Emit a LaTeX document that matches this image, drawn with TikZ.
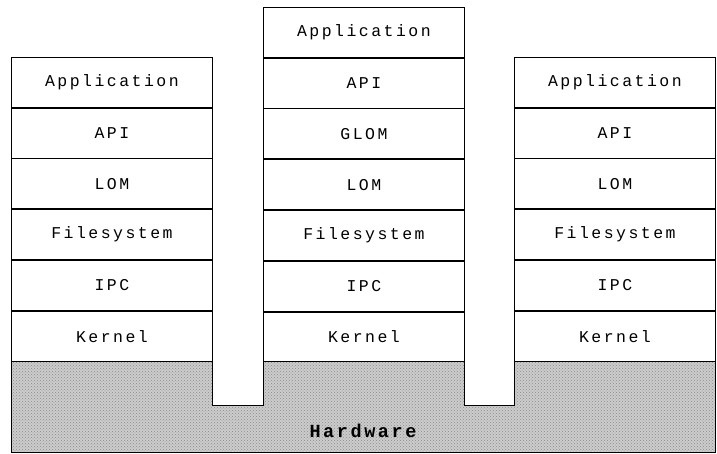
\documentclass[tikz,border=0pt]{standalone}
\usepackage{fontspec}
\usetikzlibrary{patterns}
\newfontfamily\layerfont[LetterSpace=15]{Liberation Mono}
\newfontfamily\hwfont[LetterSpace=14]{Liberation Mono}
\definecolor{hwgray}{gray}{0.8}
\tikzset{
  layer/.style={draw, line width=0.9pt, fill=white, minimum width=201pt,
    minimum height=49.85pt, inner sep=0pt, anchor=north west,
    font=\layerfont\fontsize{16.5}{16.5}\selectfont},
  hwbase/.style={fill=hwgray},
  hwdots/.style={pattern=crosshatch dots, pattern color=black!45},
}
\begin{document}
\begin{tikzpicture}[x=1pt, y=-1pt]
  \useasboundingbox (0,0) rectangle (717,454);
  % hardware base with notches between the stacks
  \def\hwoutline{(11,356) -- (212,356) -- (212,405) -- (263,405) -- (263,356)
    -- (464,356) -- (464,405) -- (514,405) -- (514,356) -- (715,356)
    -- (715,452) -- (11,452) -- cycle}
  \path[hwbase] \hwoutline;
  \path[hwdots] \hwoutline;
  \draw[line width=0.9pt] \hwoutline;
  \node[font=\hwfont\bfseries\fontsize{18.5}{18.5}\selectfont] (hw) at (363,431) {Hardware};

  % left stack
  \node[layer] (l1) at (11,57) {Application};
  \node[layer] (l2) at (l1.south west) {API};
  \node[layer] (l3) at (l2.south west) {LOM};
  \node[layer] (l4) at (l3.south west) {Filesystem};
  \node[layer] (l5) at (l4.south west) {IPC};
  \node[layer] (l6) at (l5.south west) {Kernel};

  % middle stack
  \node[layer] (m1) at (263,7) {Application};
  \node[layer] (m2) at (m1.south west) {API};
  \node[layer] (m3) at (m2.south west) {GLOM};
  \node[layer] (m4) at (m3.south west) {LOM};
  \node[layer] (m5) at (m4.south west) {Filesystem};
  \node[layer] (m6) at (m5.south west) {IPC};
  \node[layer] (m7) at (m6.south west) {Kernel};

  % right stack
  \node[layer] (r1) at (514,57) {Application};
  \node[layer] (r2) at (r1.south west) {API};
  \node[layer] (r3) at (r2.south west) {LOM};
  \node[layer] (r4) at (r3.south west) {Filesystem};
  \node[layer] (r5) at (r4.south west) {IPC};
  \node[layer] (r6) at (r5.south west) {Kernel};
\end{tikzpicture}
\end{document}
